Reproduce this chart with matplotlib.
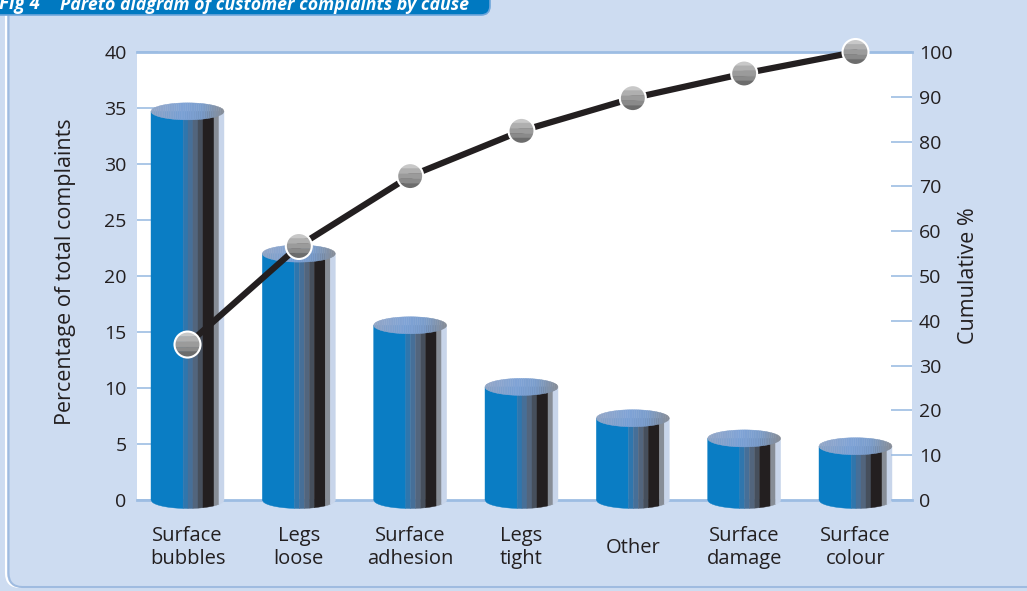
import numpy as np
import matplotlib.pyplot as plt
from matplotlib.patches import Polygon, Ellipse, FancyBboxPatch
from matplotlib.colors import LinearSegmentedColormap

plt.rcParams['font.family'] = ['Open Sans', 'DejaVu Sans']

# data
causes = ['Surface\nbubbles', 'Legs\nloose', 'Surface\nadhesion', 'Legs\ntight',
          'Other', 'Surface\ndamage', 'Surface\ncolour']
share = [34.7, 22.0, 15.6, 10.1, 7.3, 5.5, 4.8]
cumulative = [34.7, 56.7, 72.3, 82.4, 89.7, 95.2, 100.0]
left_ticks = [0, 5, 10, 15, 20, 25, 30, 35, 40]
right_ticks = [0, 10, 20, 30, 40, 50, 60, 70, 80, 90, 100]

txt = '#231f20'
bg = '#cddcf1'
tick_blue = '#9dbde3'

W, H = 1027, 591
fig = plt.figure(figsize=(W / 100, H / 100), dpi=100)
fig.patch.set_facecolor(bg)

# background decorations in pixel coords
deco = fig.add_axes([0, 0, 1, 1], zorder=-5)
deco.set_xlim(0, W)
deco.set_ylim(H, 0)
deco.axis('off')
deco.add_patch(FancyBboxPatch((6, -30), W + 40, 617, boxstyle='round,pad=0,rounding_size=14',
                              fc='none', ec='white', lw=1.5))
deco.add_patch(FancyBboxPatch((8.5, -30), W + 40, 617, boxstyle='round,pad=0,rounding_size=14',
                              fc='none', ec='#9fbbe0', lw=1.5))
deco.add_patch(FancyBboxPatch((-30, -30), 520, 45, boxstyle='round,pad=0,rounding_size=9',
                              fc='#0079c1', ec='#6fa6db', lw=1.2))
deco.text(-1, 9.5, 'Fig 4', color='white', fontsize=13.5, fontweight='bold', fontstyle='italic',
          va='baseline', ha='left')
deco.text(60, 9.5, 'Pareto diagram of customer complaints by cause', color='white', fontsize=12.8,
          fontweight='bold', fontstyle='italic', va='baseline', ha='left')

# main axes
x0, x1, ytop, ybot = 137, 912, 52, 500
ax = fig.add_axes([x0 / W, 1 - ybot / H, (x1 - x0) / W, (ybot - ytop) / H])
ax.set_facecolor('white')
xlim = (-0.4536, 6.5075)
ax.set_xlim(*xlim)
ax.set_ylim(0, 40)

px_per_x = (x1 - x0) / (xlim[1] - xlim[0])
px_per_y = (ybot - ytop) / 40.0

bw = 73 / px_per_x
eh = 17 / px_per_y

edges = [0, 0.44, 0.507, 0.575, 0.644, 0.712, 0.863, 0.931, 1.0]
stripe_cols = ['#0a7dc4', '#2f76ad', '#466f98', '#52657d', '#464f5c', '#231f20', '#878d96', '#c8d5ea']
top_cmap = LinearSegmentedColormap.from_list(
    'top', [(0, '#93a6c6'), (0.45, '#7fa3d6'), (0.7, '#7a9dcc'), (1, '#858b95')])


def lower_arc(xc, yc, xs):
    r = np.clip(1 - ((xs - xc) / (bw / 2)) ** 2, 0, 1)
    return yc - eh / 2 * np.sqrt(r)


def upper_arc(xc, yc, xs):
    r = np.clip(1 - ((xs - xc) / (bw / 2)) ** 2, 0, 1)
    return yc + eh / 2 * np.sqrt(r)


for i, v in enumerate(share):
    xl = i - bw / 2
    # body stripes
    for k in range(len(stripe_cols)):
        xa = xl + edges[k] * bw
        xb = xl + edges[k + 1] * bw
        xs = np.linspace(xa, xb, 25)
        pts = [(xa, v)] + list(zip(xs, lower_arc(i, 0, xs))) + [(xb, v)]
        ax.add_patch(Polygon(pts, closed=True, fc=stripe_cols[k], ec=stripe_cols[k], lw=0.3,
                             zorder=3, clip_on=False))
    # top ellipse with gradient
    n = 40
    for k in range(n):
        xa = xl + bw * k / n
        xb = xl + bw * (k + 1) / n
        xs = np.linspace(xa, xb, 6)
        pts = list(zip(xs, upper_arc(i, v, xs))) + list(zip(xs[::-1], lower_arc(i, v, xs[::-1])))
        c = top_cmap((k + 0.5) / n)
        ax.add_patch(Polygon(pts, closed=True, fc=c, ec=c, lw=0.3, zorder=4, clip_on=False))

ax.set_yticks(left_ticks)
ax.set_xticks(range(len(causes)))
ax.set_xticklabels(causes, linespacing=1.2)
for lab in ax.get_xticklabels():
    lab.set_verticalalignment('center')
ax.tick_params(axis='x', length=0, pad=34.5, labelsize=14.5, labelcolor=txt)
ax.tick_params(axis='y', direction='in', length=15, width=1.2, color=tick_blue,
               pad=7.5, labelsize=14, labelcolor=txt)
for s in ['left', 'right']:
    ax.spines[s].set_visible(False)
for s in ['top', 'bottom']:
    ax.spines[s].set_color(tick_blue)
    ax.spines[s].set_linewidth(2)
ax.set_ylabel('Percentage of total complaints', fontsize=15.5, color=txt, va='center')
ax.yaxis.set_label_coords((66 - x0) / (x1 - x0), 0.51)

# cumulative line on right axis
ax2 = ax.twinx()
ax2.set_ylim(0, 100)
ax2.set_yticks(right_ticks)
ax2.tick_params(axis='y', direction='in', length=15, width=1.2, color=tick_blue,
                pad=5, labelsize=14, labelcolor=txt)
for s in ax2.spines.values():
    s.set_visible(False)
ax2.set_ylabel('Cumulative %', fontsize=15.5, color=txt, va='center')
ax2.yaxis.set_label_coords((968 - x0) / (x1 - x0), 0.5)

xs_line = np.arange(len(cumulative))
ax2.plot(xs_line, cumulative, color='#231f20', lw=4.5, zorder=3, clip_on=False,
         solid_capstyle='round')

rx = 13 / px_per_x
ry = 13 / ((ybot - ytop) / 100.0)
band_edges = [1, 0.6, 0.2, -0.2, -0.55, -1]
band_cols = ['#c8c8c8', '#afafaf', '#9b9b9b', '#8a8a8a', '#6c6c6c']
for xi, c in zip(xs_line, cumulative):
    for k in range(len(band_cols)):
        t = np.linspace(band_edges[k], band_edges[k + 1], 15)
        hw = np.sqrt(np.clip(1 - t ** 2, 0, 1))
        pts = list(zip(xi + rx * hw, c + ry * t)) + list(zip((xi - rx * hw)[::-1], (c + ry * t)[::-1]))
        ax2.add_patch(Polygon(pts, closed=True, fc=band_cols[k], ec=band_cols[k], lw=0.3,
                              zorder=4, clip_on=False))
    ax2.add_patch(Ellipse((xi, c), 2 * rx, 2 * ry, fill=False, ec='white', lw=1.5,
                          zorder=5, clip_on=False))

fig.savefig('out.png', dpi=100, facecolor=fig.get_facecolor())
